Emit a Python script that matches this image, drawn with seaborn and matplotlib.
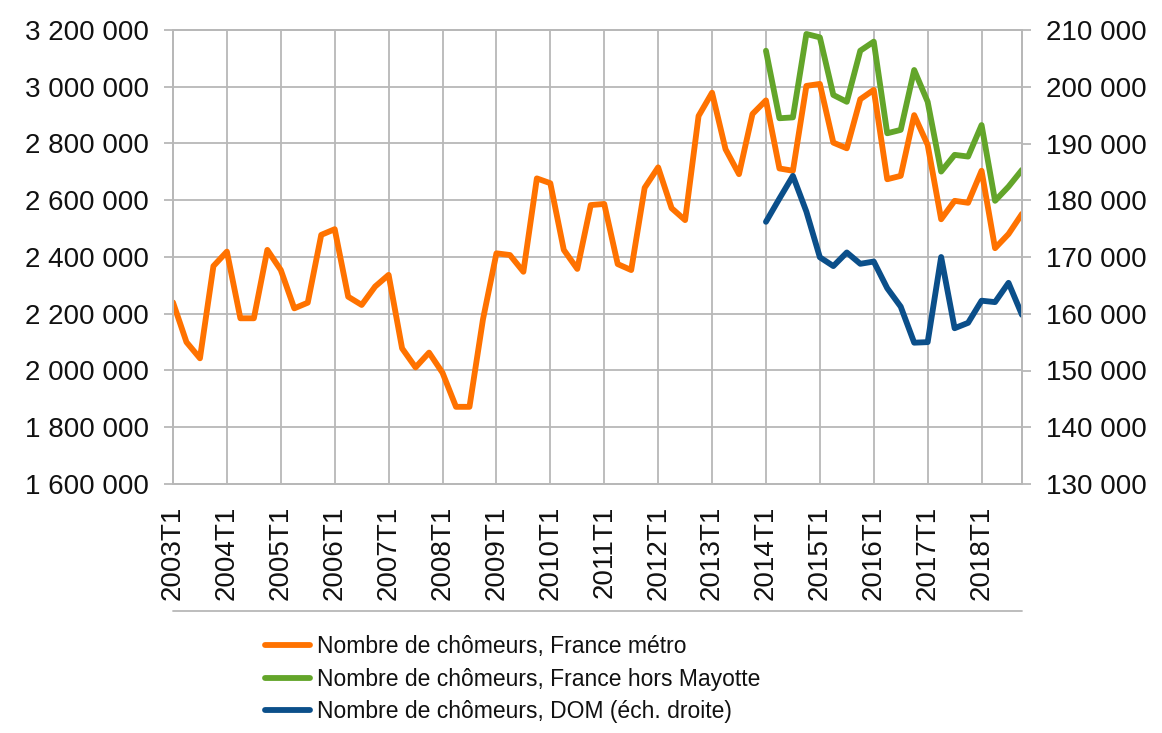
import numpy as np
import pandas as pd
import matplotlib
matplotlib.use("Agg")
import matplotlib.pyplot as plt
from matplotlib.lines import Line2D
from matplotlib.ticker import FuncFormatter
import seaborn as sns

# ─── DATA ─────────────────────────────────────────────────
YEARS = list(range(2003, 2019))
QUARTERS = [f"{y}T{q}" for y in YEARS for q in range(1, 5)]

# France métro, 2003T1 -> 2018T4
metro = [
    2240000, 2100000, 2043000, 2368000,
    2419000, 2184000, 2184000, 2425000,
    2354000, 2219000, 2239000, 2478000,
    2498000, 2260000, 2231000, 2296000,
    2337000, 2078000, 2011000, 2063000,
    1992000, 1872000, 1872000, 2180000,
    2413000, 2407000, 2348000, 2677000,
    2660000, 2425000, 2358000, 2583000,
    2587000, 2375000, 2354000, 2644000,
    2716000, 2572000, 2530000, 2897000,
    2979000, 2780000, 2692000, 2904000,
    2952000, 2712000, 2704000, 3003000,
    3010000, 2803000, 2783000, 2956000,
    2989000, 2674000, 2686000, 2900000,
    2795000, 2533000, 2598000, 2591000,
    2704000, 2431000, 2481000, 2552000,
]

# France hors Mayotte, 2014T1 -> 2018T4
hors_mayotte = [
    3127000, 2889000, 2892000, 3186000,
    3174000, 2971000, 2947000, 3127000,
    3159000, 2836000, 2848000, 3059000,
    2947000, 2701000, 2760000, 2754000,
    2865000, 2598000, 2648000, 2707000,
]

# DOM (right scale), 2014T1 -> 2018T4
dom = [
    176200, 180300, 184300, 178000,
    169950, 168400, 170800, 168800,
    169200, 164500, 161250, 154900,
    155000, 170000, 157450, 158400,
    162300, 162050, 165450, 159800,
]

LABELS = [
    "Nombre de chômeurs, France métro",
    "Nombre de chômeurs, France hors Mayotte",
    "Nombre de chômeurs, DOM (éch. droite)",
]
COLORS = ["#ff7200", "#63a52a", "#0b4f8a"]

# ─── FRAMES ───────────────────────────────────────────────
pos = np.arange(len(QUARTERS))
start = QUARTERS.index("2014T1")
df_metro = pd.DataFrame({"pos": pos, "val": metro})
df_hm = pd.DataFrame({"pos": pos[start:], "val": hors_mayotte})
df_dom = pd.DataFrame({"pos": pos[start:], "val": dom})

# ─── STYLE ────────────────────────────────────────────────
sns.set_style("white")
plt.rcParams["font.family"] = ["Liberation Sans", "DejaVu Sans"]
GRID = "#b8b8b8"

fig = plt.figure(figsize=(11.62, 7.33), dpi=100)
ax = fig.add_axes([173 / 1162, 1 - 484 / 733, (1022 - 173) / 1162, (484 - 30) / 733])
ax2 = ax.twinx()

lw = 4.2
sns.lineplot(data=df_metro, x="pos", y="val", ax=ax, color=COLORS[0], lw=lw)
sns.lineplot(data=df_hm, x="pos", y="val", ax=ax, color=COLORS[1], lw=lw)
sns.lineplot(data=df_dom, x="pos", y="val", ax=ax2, color=COLORS[2], lw=lw)

# axes ranges
ax.set_xlim(0, len(QUARTERS) - 1)
ax.set_ylim(1600000, 3200000)
ax2.set_ylim(130000, 210000)
ax.set_yticks(np.arange(1600000, 3200001, 200000))
ax2.set_yticks(np.arange(130000, 210001, 10000))

fmt = FuncFormatter(lambda v, _: f"{v:,.0f}".replace(",", " "))
ax.yaxis.set_major_formatter(fmt)
ax2.yaxis.set_major_formatter(fmt)

year_pos = pos[::4]
ax.set_xticks(year_pos)
ax.set_xticklabels(QUARTERS[::4], rotation=90)

ax.set_xlabel("")
ax.set_ylabel("")
ax2.set_ylabel("")

# grid + spines
ax.grid(True, color=GRID, lw=1.3)
ax2.grid(False)
for a in (ax, ax2):
    for s in a.spines.values():
        s.set_color(GRID)
        s.set_linewidth(1.3)
    a.tick_params(axis="both", length=6.5, width=1.3, color=GRID,
                  labelsize=20, labelcolor="#111111")
ax.tick_params(axis="y", pad=11)
ax2.tick_params(axis="y", pad=11)
ax.tick_params(axis="x", pad=9)
ax.set_axisbelow(True)

# line under the category labels
fig.add_artist(Line2D([173 / 1162, 1022 / 1162], [1 - 611 / 733, 1 - 611 / 733],
                      color=GRID, lw=1.3))

# legend
handles = [Line2D([], [], color=c, lw=lw) for c in COLORS]
fig.legend(handles, LABELS, loc="upper left",
           bbox_to_anchor=(265 / 1162, 1 - 635 / 733),
           frameon=False, fontsize=16.5, borderpad=0, borderaxespad=0,
           handlelength=1.95, handletextpad=0.3, labelspacing=0.42,
           labelcolor="#111111")

fig.savefig("out.png", dpi=100)
